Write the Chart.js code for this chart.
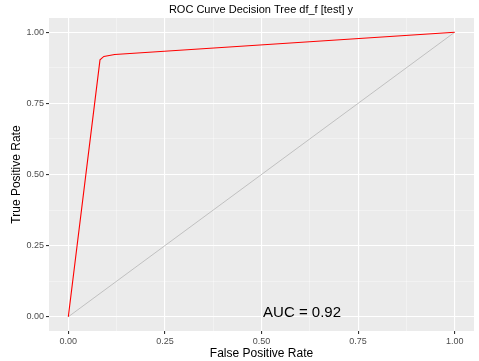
<!DOCTYPE html>
<html><head><meta charset="utf-8">
<script src="https://cdn.jsdelivr.net/npm/chart.js@4.4.0/dist/chart.umd.min.js"></script>
<style>html,body{margin:0;padding:0;background:#fff}#wrap{width:479px;height:361px}</style>
</head><body><div id="wrap"><canvas id="c" width="479" height="361"></canvas></div>
<script>
const chartTitle = "ROC Curve Decision Tree df_f [test] y";
const rocFPR = [0, 0.082, 0.092, 0.12, 1];
const rocTPR = [0, 0.903, 0.915, 0.922, 1];
const diagFPR = [0, 1];
const diagTPR = [0, 1];
const tickValues = [0, 0.25, 0.5, 0.75, 1];
const aucLabel = "AUC = 0.92";
const aucPos = [0.605, 0.012];

const minorTicks = [0, 0.125, 0.25, 0.375, 0.5, 0.625, 0.75, 0.875, 1];
function isMajor(v){ return tickValues.some(t => Math.abs(t - v) < 1e-9); }

const bgPlugin = {
  id: 'bg',
  beforeDraw(chart){
    const {ctx, chartArea:a} = chart;
    ctx.save(); ctx.fillStyle = '#EBEBEB';
    ctx.fillRect(a.left, a.top, a.right - a.left, a.bottom - a.top);
    ctx.restore();
  },
  afterDraw(chart){
    const {ctx, scales} = chart;
    ctx.save();
    ctx.fillStyle = '#000';
    ctx.font = '11px "Liberation Sans", Arial, sans-serif';
    ctx.textAlign = 'center'; ctx.textBaseline = 'middle';
    ctx.fillText(chartTitle, 261, 10);
    ctx.font = '15px "Liberation Sans", Arial, sans-serif';
    ctx.fillText(aucLabel, scales.x.getPixelForValue(aucPos[0]), scales.y.getPixelForValue(aucPos[1]));
    ctx.restore();
  }
};

const gridOpts = {
  color: c => isMajor(c.tick.value) ? '#FFFFFF' : 'rgba(255,255,255,0.75)',
  lineWidth: c => isMajor(c.tick.value) ? 1.1 : 0.5,
  tickColor: c => isMajor(c.tick.value) ? '#333333' : 'rgba(0,0,0,0)',
  tickLength: 3,
  drawTicks: true,
};
const tickFont = {family: '"Liberation Sans", Arial, sans-serif', size: 9};
const titleFont = {family: '"Liberation Sans", Arial, sans-serif', size: 12};

new Chart(document.getElementById('c'), {
  type: 'scatter',
  data: {
    datasets: [
      {data: diagFPR.map((x,i)=>({x, y: diagTPR[i]})), showLine: true, borderColor: '#B5B5B5', borderWidth: 0.8, pointRadius: 0, order: 2},
      {data: rocFPR.map((x,i)=>({x, y: rocTPR[i]})), showLine: true, borderColor: '#FF0000', borderWidth: 1.1, pointRadius: 0, order: 1}
    ]
  },
  plugins: [bgPlugin],
  options: {
    responsive: false, animation: false, devicePixelRatio: 1,
    layout: {padding: {top: 18, right: 5, left: 0, bottom: 0}},
    plugins: {legend: {display: false}, tooltip: {enabled: false}, title: {display: false}},
    scales: {
      x: {
        type: 'linear', min: -0.05, max: 1.05,
        afterBuildTicks: s => { s.ticks = minorTicks.map(v => ({value: v})); },
        afterFit: s => { s.height = 30; },
        border: {display: false},
        grid: gridOpts,
        ticks: {
          autoSkip: false, maxRotation: 0, padding: 2, color: '#4D4D4D', font: tickFont,
          callback: v => isMajor(v) ? v.toFixed(2) : ''
        },
        title: {display: true, text: 'False Positive Rate', color: '#000', font: titleFont, padding: {top: 0, bottom: 0}}
      },
      y: {
        type: 'linear', min: -0.05, max: 1.05,
        afterBuildTicks: s => { s.ticks = minorTicks.map(v => ({value: v})); },
        afterFit: s => { s.width = 49; },
        border: {display: false},
        grid: gridOpts,
        ticks: {
          autoSkip: false, padding: 2, color: '#4D4D4D', font: tickFont,
          callback: v => isMajor(v) ? v.toFixed(2) : ''
        },
        title: {display: true, text: 'True Positive Rate', color: '#000', font: titleFont, padding: {top: 9, bottom: 0}}
      }
    }
  }
});
</script></body></html>
